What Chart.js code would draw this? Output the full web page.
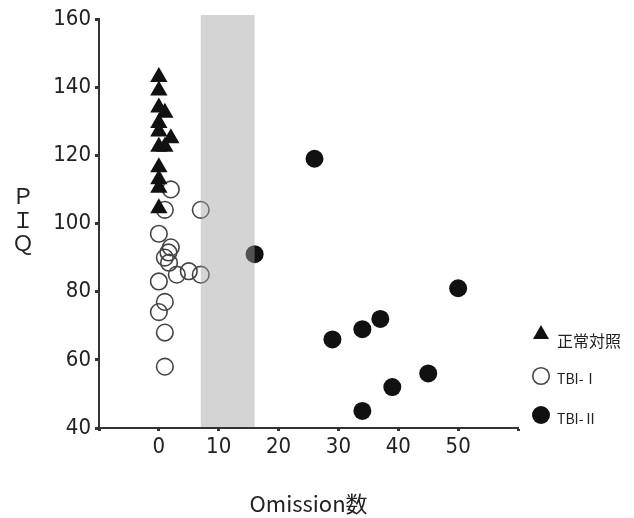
<!DOCTYPE html>
<html>
<head>
<meta charset="utf-8">
<script src="https://cdn.jsdelivr.net/npm/chart.js@4/dist/chart.umd.min.js"></script>
<style>
  html, body { margin: 0; background: #fff; }
  #wrap { width: 634px; height: 518px; }
</style>
</head>
<body>
<div id="wrap"><canvas id="piqChart"></canvas></div>
<script>
// 正常対照
const ctrlOmission = [0, 0, 0, 1, 0, 0, 2, 0, 1, 0, 0, 0, 0];
const ctrlPiq      = [143, 139, 134, 132.5, 129.5, 127, 125, 122.5, 122.5, 116.5, 113, 110.5, 104.5];
// TBI-Ⅰ
const tbi1Omission = [2, 1, 7, 0, 2, 1.6, 1, 1.7, 3, 5, 7, 0, 1, 0, 1, 1];
const tbi1Piq      = [110, 104, 104, 97, 93, 91.5, 90, 88.5, 85, 86, 85, 83, 77, 74, 68, 58];
// TBI-Ⅱ
const tbi2Omission = [16, 26, 29, 34, 37, 50, 45, 39, 34];
const tbi2Piq      = [91, 119, 66, 69, 72, 81, 56, 52, 45];

const seriesNames = ['正常対照', 'TBI-Ⅰ', 'TBI-Ⅱ'];
const xTickValues = [0, 10, 20, 30, 40, 50];
const yTickValues = [40, 60, 80, 100, 120, 140, 160];
const bandFrom = 7, bandTo = 16;

const toPts = (xs, ys) => xs.map((x, i) => ({ x: x, y: ys[i] }));
const tickFont = { family: "'Liberation Sans Narrow', 'Arial Narrow', 'DejaVu Sans Condensed', sans-serif", size: 22 };
const jpFont = "'Noto Sans CJK JP', 'Noto Sans', sans-serif";

const extras = {
  id: 'extras',
  afterDatasetsDraw(chart) {
    const { ctx, chartArea, scales } = chart;
    const x0 = scales.x.getPixelForValue(bandFrom);
    const x1 = scales.x.getPixelForValue(bandTo);
    ctx.save();
    ctx.fillStyle = 'rgba(160,160,160,0.45)';
    ctx.fillRect(x0, chartArea.top - 4, x1 - x0, chartArea.bottom - chartArea.top + 3);
    ctx.restore();
  },
  afterDraw(chart) {
    const ctx = chart.ctx;
    ctx.save();
    // y title, stacked letters
    ctx.fillStyle = '#222';
    ctx.font = '22px ' + jpFont;
    ctx.textAlign = 'center';
    ctx.textBaseline = 'middle';
    ['Ｐ', 'Ｉ', 'Ｑ'].forEach((ch, i) => ctx.fillText(ch, 23, 196 + i * 23.5));

    // legend
    const mx = 541;
    ctx.fillStyle = '#111';
    ctx.beginPath();
    ctx.moveTo(mx, 325); ctx.lineTo(mx + 8, 339); ctx.lineTo(mx - 8, 339); ctx.closePath();
    ctx.fill();
    ctx.beginPath();
    ctx.arc(mx, 376, 8.3, 0, Math.PI * 2);
    ctx.strokeStyle = '#444'; ctx.lineWidth = 1.6; ctx.stroke();
    ctx.beginPath();
    ctx.arc(mx, 415, 9, 0, Math.PI * 2);
    ctx.fill();

    ctx.textAlign = 'left';
    ctx.fillStyle = '#222';
    ctx.font = '16px ' + jpFont;
    ctx.fillText(seriesNames[0], 557, 341);
    ctx.font = '14px ' + jpFont;
    ctx.fillText(seriesNames[1], 557, 379);
    ctx.fillText(seriesNames[2], 557, 419);
    ctx.restore();
  }
};

new Chart(document.getElementById('piqChart').getContext('2d'), {
  type: 'scatter',
  data: {
    datasets: [
      { label: seriesNames[0], data: toPts(ctrlOmission, ctrlPiq),
        pointStyle: 'triangle', pointRadius: 10,
        pointBackgroundColor: '#111', pointBorderColor: '#111', pointBorderWidth: 0 },
      { label: seriesNames[1], data: toPts(tbi1Omission, tbi1Piq),
        pointStyle: 'circle', pointRadius: 8.3,
        pointBackgroundColor: 'rgba(0,0,0,0)', pointBorderColor: '#444', pointBorderWidth: 1.6 },
      { label: seriesNames[2], data: toPts(tbi2Omission, tbi2Piq),
        pointStyle: 'circle', pointRadius: 9,
        pointBackgroundColor: '#111', pointBorderColor: '#111', pointBorderWidth: 0 }
    ]
  },
  options: {
    responsive: true,
    maintainAspectRatio: false,
    animation: false,
    layout: { padding: { top: 19, right: 116, left: 0, bottom: 0 } },
    plugins: { legend: { display: false }, tooltip: { enabled: false } },
    scales: {
      x: {
        type: 'linear', min: -10, max: 60,
        afterBuildTicks: s => { s.ticks = [-10].concat(xTickValues, [60]).map(v => ({ value: v })); },
        afterFit: s => { s.height = 90; },
        ticks: { font: tickFont, color: '#222', padding: 3, maxRotation: 0,
                 callback: v => xTickValues.includes(v) ? String(v) : '' },
        border: { color: '#333', width: 2 },
        grid: { drawOnChartArea: false, tickLength: 3, tickWidth: 3, tickColor: '#333' },
        title: { display: true, text: 'Omission数', color: '#222',
                 font: { family: jpFont, size: 22 }, padding: { top: 0, bottom: 1 } }
      },
      y: {
        type: 'linear', min: 40, max: 160,
        afterBuildTicks: s => { s.ticks = yTickValues.map(v => ({ value: v })); },
        afterFit: s => { s.width = 99; },
        ticks: { font: tickFont, color: '#222', padding: 4 },
        border: { color: '#333', width: 2 },
        grid: { drawOnChartArea: false, tickLength: 4, tickWidth: 3, tickColor: '#333' }
      }
    }
  },
  plugins: [extras]
});
</script>
</body>
</html>
